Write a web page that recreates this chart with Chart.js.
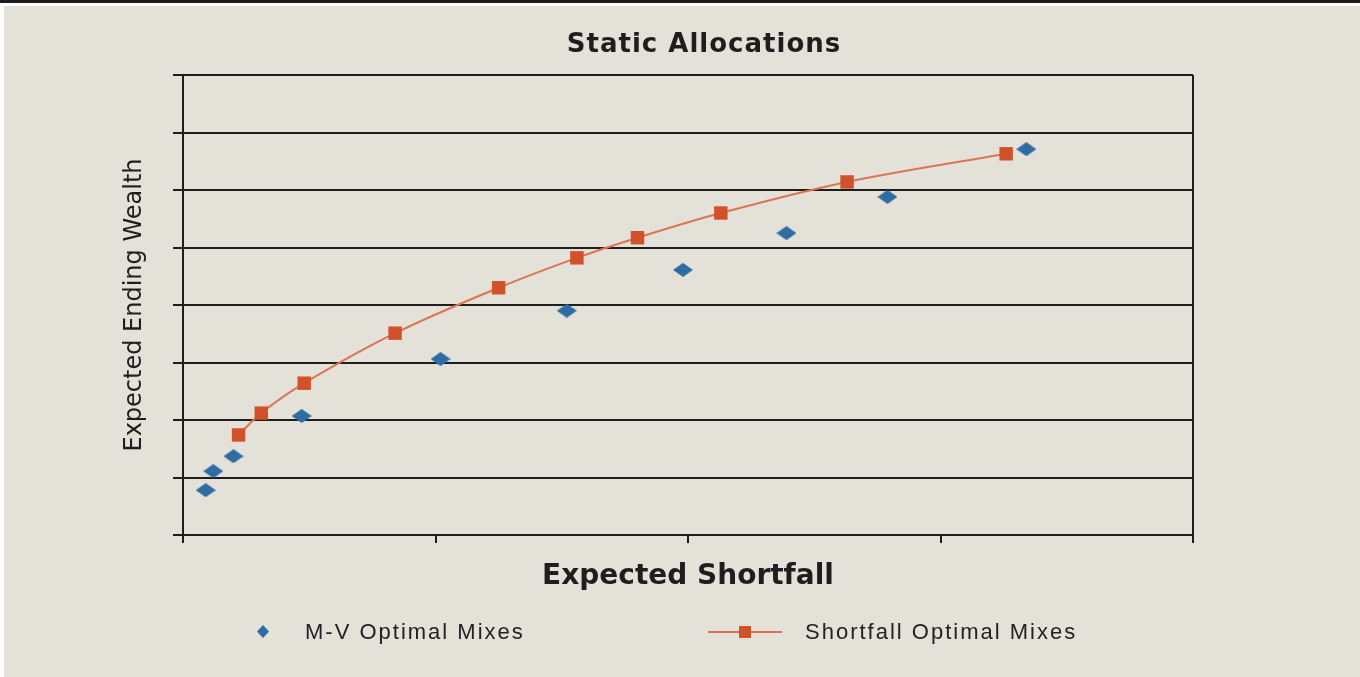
<!DOCTYPE html>
<html>
<head>
<meta charset="utf-8">
<script src="https://cdn.jsdelivr.net/npm/chart.js@4/dist/chart.umd.min.js"></script>
<style>
    html, body { margin: 0; padding: 0; background: #ffffff; }
    #page { position: relative; width: 1360px; height: 677px; overflow: hidden; }
    #topbar { position: absolute; left: 0; top: 0; width: 1360px; height: 3px; background: #1c1c1c; }
    #panel { position: absolute; left: 4px; top: 6px; right: 0; bottom: 0; background: #e3e1d8; }
    #chartbox { position: absolute; left: 0; top: 0; width: 1360px; height: 677px; }
    #title { position: absolute; top: 28px; left: 504px; width: 400px; text-align: center;
             font: bold 26px "DejaVu Sans", sans-serif; letter-spacing: 1px; color: #1e1e1e; white-space: nowrap; }
    .leg { position: absolute; top: 619px; font: 22px "Liberation Sans", sans-serif; letter-spacing: 2px;
           color: #222; white-space: nowrap; }
    .leg canvas { position: absolute; }
</style>
</head>
<body>
<div id="page">
    <div id="topbar"></div>
    <div id="panel"></div>
    <div id="chartbox"><canvas id="chart" width="1360" height="677"></canvas></div>
    <div id="title">Static Allocations</div>
    <div class="leg" id="leg1" style="left:305px"></div>
    <div class="leg" id="leg2" style="left:805px"></div>
</div>
<script>
// values in grid units (x: 0..4, y: 0..8)
var SERIES_NAMES = ['M-V Optimal Mixes', 'Shortfall Optimal Mixes'];
var MV_X = [0.09, 0.12, 0.20, 0.47, 1.02, 1.52, 1.98, 2.39, 2.79, 3.34];
var MV_Y = [0.78, 1.11, 1.37, 2.07, 3.06, 3.90, 4.61, 5.25, 5.88, 6.71];
var SF_X = [0.22, 0.31, 0.48, 0.84, 1.25, 1.56, 1.80, 2.13, 2.63, 3.26];
var SF_Y = [1.74, 2.12, 2.64, 3.51, 4.30, 4.82, 5.17, 5.60, 6.14, 6.63];
var X_TITLE = 'Expected Shortfall';
var Y_TITLE = 'Expected Ending Wealth';

var BLUE = '#2f6ca3', ORANGE = '#d1522a', LINE = '#dc7453', INK = '#1e1e1e';

function pts(xs, ys) {
    var out = [];
    for (var i = 0; i < xs.length; i++) out.push({x: xs[i], y: ys[i]});
    return out;
}

function diamond(w, h, color) {
    var c = document.createElement('canvas');
    c.width = w; c.height = h;
    var g = c.getContext('2d');
    g.fillStyle = color;
    g.beginPath();
    g.moveTo(w / 2, 0); g.lineTo(w, h / 2); g.lineTo(w / 2, h); g.lineTo(0, h / 2);
    g.closePath();
    g.fill();
    return c;
}

function legendMark(kind) {
    var c = document.createElement('canvas');
    var g = c.getContext('2d');
    if (kind == 'diamond') {
        c.width = 14; c.height = 14;
        g.drawImage(diamond(12, 13, BLUE), 1, 0);
        c.style.left = '-49px';
        c.style.top = '6px';
    } else {
        c.width = 74; c.height = 20;
        g.strokeStyle = LINE; g.lineWidth = 2;
        g.beginPath(); g.moveTo(0, 10); g.lineTo(74, 10); g.stroke();
        g.fillStyle = ORANGE; g.fillRect(31, 4, 12, 12);
        c.style.left = '-97px';
        c.style.top = '3px';
    }
    return c;
}

function addLegend(id, name, kind) {
    var el = document.getElementById(id);
    el.appendChild(legendMark(kind));
    el.appendChild(document.createTextNode(name));
}
addLegend('leg1', SERIES_NAMES[0], 'diamond');
addLegend('leg2', SERIES_NAMES[1], 'line');

var ctx = document.getElementById('chart');
var staticChart = new Chart(ctx, {
    type: 'scatter',
    data: {
        datasets: [{
            label: SERIES_NAMES[0],
            data: pts(MV_X, MV_Y),
            showLine: false,
            pointStyle: diamond(20, 14, BLUE),
            backgroundColor: BLUE,
            borderColor: BLUE
        }, {
            label: SERIES_NAMES[1],
            data: pts(SF_X, SF_Y),
            showLine: true,
            tension: 0.35,
            borderColor: LINE,
            borderWidth: 2,
            pointStyle: 'rect',
            pointRadius: 9.5,
            pointBorderWidth: 0,
            backgroundColor: ORANGE,
            pointBackgroundColor: ORANGE
        }]
    },
    options: {
        responsive: false,
        animation: false,
        layout: {padding: {top: 75, right: 167, left: 0, bottom: 0}},
        plugins: {legend: {display: false}, title: {display: false}, tooltip: {enabled: false}},
        scales: {
            x: {
                type: 'linear', min: 0, max: 4,
                ticks: {display: false, stepSize: 1},
                grid: {
                    color: function(c) { return c.tick && c.tick.value == 4 ? INK : 'rgba(0,0,0,0)'; },
                    tickColor: INK, lineWidth: 2, tickLength: 8
                },
                border: {display: true, color: INK, width: 2},
                title: {display: true, text: X_TITLE, color: INK,
                        font: {family: 'DejaVu Sans', size: 28, weight: 'bold'},
                        padding: {top: 0, bottom: 83}},
                afterFit: function(s) { s.height = 142; }
            },
            y: {
                type: 'linear', min: 0, max: 8,
                ticks: {display: false, stepSize: 1},
                grid: {color: INK, lineWidth: 2, tickLength: 10},
                border: {display: true, color: INK, width: 2},
                title: {display: true, text: Y_TITLE, color: INK,
                        font: {family: 'DejaVu Sans', size: 24},
                        padding: {top: 120, bottom: 0}},
                afterFit: function(s) { s.width = 183; }
            }
        }
    }
});
</script>
</body>
</html>
